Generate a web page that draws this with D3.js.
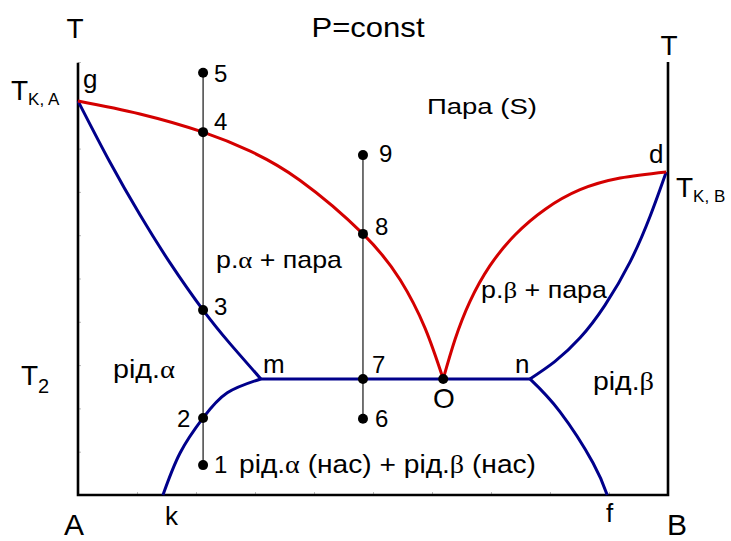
<!DOCTYPE html>
<html>
<head>
<meta charset="utf-8">
<script src="https://cdn.jsdelivr.net/npm/d3@7"></script>
<style>
  html, body { margin: 0; padding: 0; background: #fff; }
  svg { display: block; font-family: "Liberation Sans", Arial, sans-serif; }
  .greek { font-family: "Liberation Serif", "DejaVu Serif", serif; }
</style>
</head>
<body>
<svg id="chart" width="731" height="541"></svg>
<script>
// Composition (0 = pure A, 100 = pure B) and temperature (relative units)
const compositionTicks = d3.range(0, 101, 10);
const temperatureTicks = d3.range(0, 101, 10);

// Vapour (dew) curves, red
const dewAlpha = [[0, 91.0], [10.5, 88.0], [21.2, 83.8], [29.2, 79.4], [37.6, 72.7], [48.3, 60.3], [54.6, 49.7], [58.8, 38.6], [61.9, 26.8]];
const dewBeta = [[61.9, 26.8], [63.9, 35.9], [66.4, 44.6], [69.8, 52.9], [74.1, 60.1], [79.2, 66.0], [85.1, 70.5], [91.9, 73.2], [99.7, 74.6]];

// Liquid (boiling) curves and solubility curves, blue
const boilAlpha = [[0, 91.0], [5.4, 76.9], [10.5, 64.7], [15.6, 53.6], [21.2, 42.7], [25.8, 34.9], [31.0, 26.8]];
const solubAlpha = [[14.4, 0], [17.3, 9.7], [21.2, 17.8], [25.3, 23.6], [31.0, 26.8]];
const boilBeta = [[76.6, 26.8], [80.8, 30.8], [85.1, 36.3], [89.3, 43.8], [93.6, 53.9], [97.0, 64.5], [99.7, 74.6]];
const solubBeta = [[76.6, 26.8], [81.7, 19.2], [87.3, 7.4], [89.7, 0]];
const eutecticLine = [[31.0, 26.8], [76.6, 26.8]];

// Two isopleths with numbered state points
const isopleth1X = 21.2;
const isopleth1T = [97.5, 83.8, 42.7, 17.8, 6.9];
const isopleth1Labels = ["5", "4", "3", "2", "1"];
const isopleth2X = 48.3;
const isopleth2T = [78.5, 60.3, 26.8, 17.6];
const isopleth2Labels = ["9", "8", "7", "6"];
const pointO = [61.9, 26.8];

const svg = d3.select("#chart");
const x = d3.scaleLinear().domain([0, 100]).range([78, 668]);
const y = d3.scaleLinear().domain([0, 100]).range([495, 62]);

// faint inner ticks
const gx = svg.append("g").attr("transform", `translate(0,${y(0)})`)
  .call(d3.axisBottom(x).tickValues(compositionTicks).tickSize(-3).tickFormat(""));
gx.select(".domain").remove();
gx.selectAll("line").attr("stroke", "#bbb");
const gy = svg.append("g").attr("transform", `translate(${x(0)},0)`)
  .call(d3.axisLeft(y).tickValues(temperatureTicks).tickSize(-3).tickFormat(""));
gy.select(".domain").remove();
gy.selectAll("line").attr("stroke", "#bbb");

// frame: two temperature axes and the composition axis
svg.append("path")
  .attr("d", `M${x(0)},${y(99.8)} L${x(0)},${y(0)} L${x(100)},${y(0)} L${x(100)},${y(100)}`)
  .attr("fill", "none").attr("stroke", "#000").attr("stroke-width", 2.6)
  .attr("stroke-linejoin", "miter");

// isopleths
svg.append("line").attr("x1", x(isopleth1X)).attr("x2", x(isopleth1X))
  .attr("y1", y(d3.max(isopleth1T))).attr("y2", y(d3.min(isopleth1T)))
  .attr("stroke", "#000").attr("stroke-width", 1.1);
svg.append("line").attr("x1", x(isopleth2X)).attr("x2", x(isopleth2X))
  .attr("y1", y(d3.max(isopleth2T))).attr("y2", y(d3.min(isopleth2T)))
  .attr("stroke", "#000").attr("stroke-width", 1.1);

const line = d3.line().x(d => x(d[0])).y(d => y(d[1])).curve(d3.curveNatural);
const BLUE = "#00008b", RED = "#d40000";
[[boilAlpha, BLUE], [solubAlpha, BLUE], [boilBeta, BLUE], [solubBeta, BLUE], [eutecticLine, BLUE],
 [dewAlpha, RED], [dewBeta, RED]].forEach(([data, color]) => {
  svg.append("path").attr("d", line(data)).attr("fill", "none")
    .attr("stroke", color).attr("stroke-width", 3).attr("stroke-linecap", "butt");
});

// state points
const pts = isopleth1T.map(t => [isopleth1X, t]).concat(isopleth2T.map(t => [isopleth2X, t]), [pointO]);
svg.selectAll("circle.pt").data(pts).join("circle").attr("class", "pt")
  .attr("cx", d => x(d[0])).attr("cy", d => y(d[1])).attr("r", 5).attr("fill", "#000");

// point numbers
const numFont = 24;
isopleth1T.forEach((t, i) => {
  const dx = isopleth1Labels[i] === "2" ? -26 : 11;
  const dy = { "5": 9, "4": -2, "3": 5, "2": 9, "1": 8 }[isopleth1Labels[i]];
  svg.append("text").attr("x", x(isopleth1X) + dx).attr("y", y(t) + dy)
    .attr("font-size", numFont).text(isopleth1Labels[i]);
});
isopleth2T.forEach((t, i) => {
  const dy = { "9": 7, "8": 1, "7": -6, "6": 8 }[isopleth2Labels[i]];
  const dx = { "9": 16, "8": 12, "7": 9, "6": 12 }[isopleth2Labels[i]];
  svg.append("text").attr("x", x(isopleth2X) + dx).attr("y", y(t) + dy)
    .attr("font-size", numFont).text(isopleth2Labels[i]);
});

// text helper: parts = [[text, greek?, dy, size]]
function label(px, py, size, parts, opts = {}) {
  const t = svg.append("text").attr("x", px).attr("y", py).attr("font-size", size);
  if (opts.anchor) t.attr("text-anchor", opts.anchor);
  if (opts.len) t.attr("textLength", opts.len).attr("lengthAdjust", "spacingAndGlyphs");
  parts.forEach(p => {
    const s = t.append("tspan").text(p[0]);
    if (p[1]) s.attr("class", "greek");
    if (p[2]) s.attr("dy", p[2]);
    if (p[3]) s.attr("font-size", p[3]);
  });
  return t;
}

label(75, 38, 28, [["T"]], { anchor: "middle" });
label(669, 55, 28, [["T"]], { anchor: "middle" });
label(368, 37, 28, [["P=const"]], { anchor: "middle", len: 113 });
label(11, 100, 28, [["T"], ["K, A", false, 5, 17]]);
label(676, 197, 28, [["T"], ["K, B", false, 5, 17]]);
label(21, 385, 28, [["T"], ["2", false, 8, 20]]);
label(83, 88, 26, [["g"]]);
label(649, 163, 26, [["d"]]);
label(263, 373, 26, [["m"]]);
label(515, 373, 26, [["n"]]);
label(444, 408, 28, [["O"]], { anchor: "middle" });
label(165, 525, 26, [["k"]]);
label(606, 522, 26, [["f"]]);
label(74, 535, 30, [["A"]], { anchor: "middle" });
label(677, 535, 30, [["B"]], { anchor: "middle" });

label(427, 114, 22, [["Пара (S)"]], { len: 110 });
label(216, 268, 24, [["р."], ["α", true], [" + пара"]], { len: 126 });
label(481, 298, 24, [["р."], ["β", true], [" + пара"]], { len: 126 });
label(113, 378, 26, [["рід."], ["α", true]], { len: 62 });
label(593, 390, 26, [["рід."], ["β", true]], { len: 61 });
label(239, 473, 26, [["рід."], ["α", true], [" (нас) + рід."], ["β", true], [" (нас)"]], { len: 297 });
</script>
</body>
</html>
